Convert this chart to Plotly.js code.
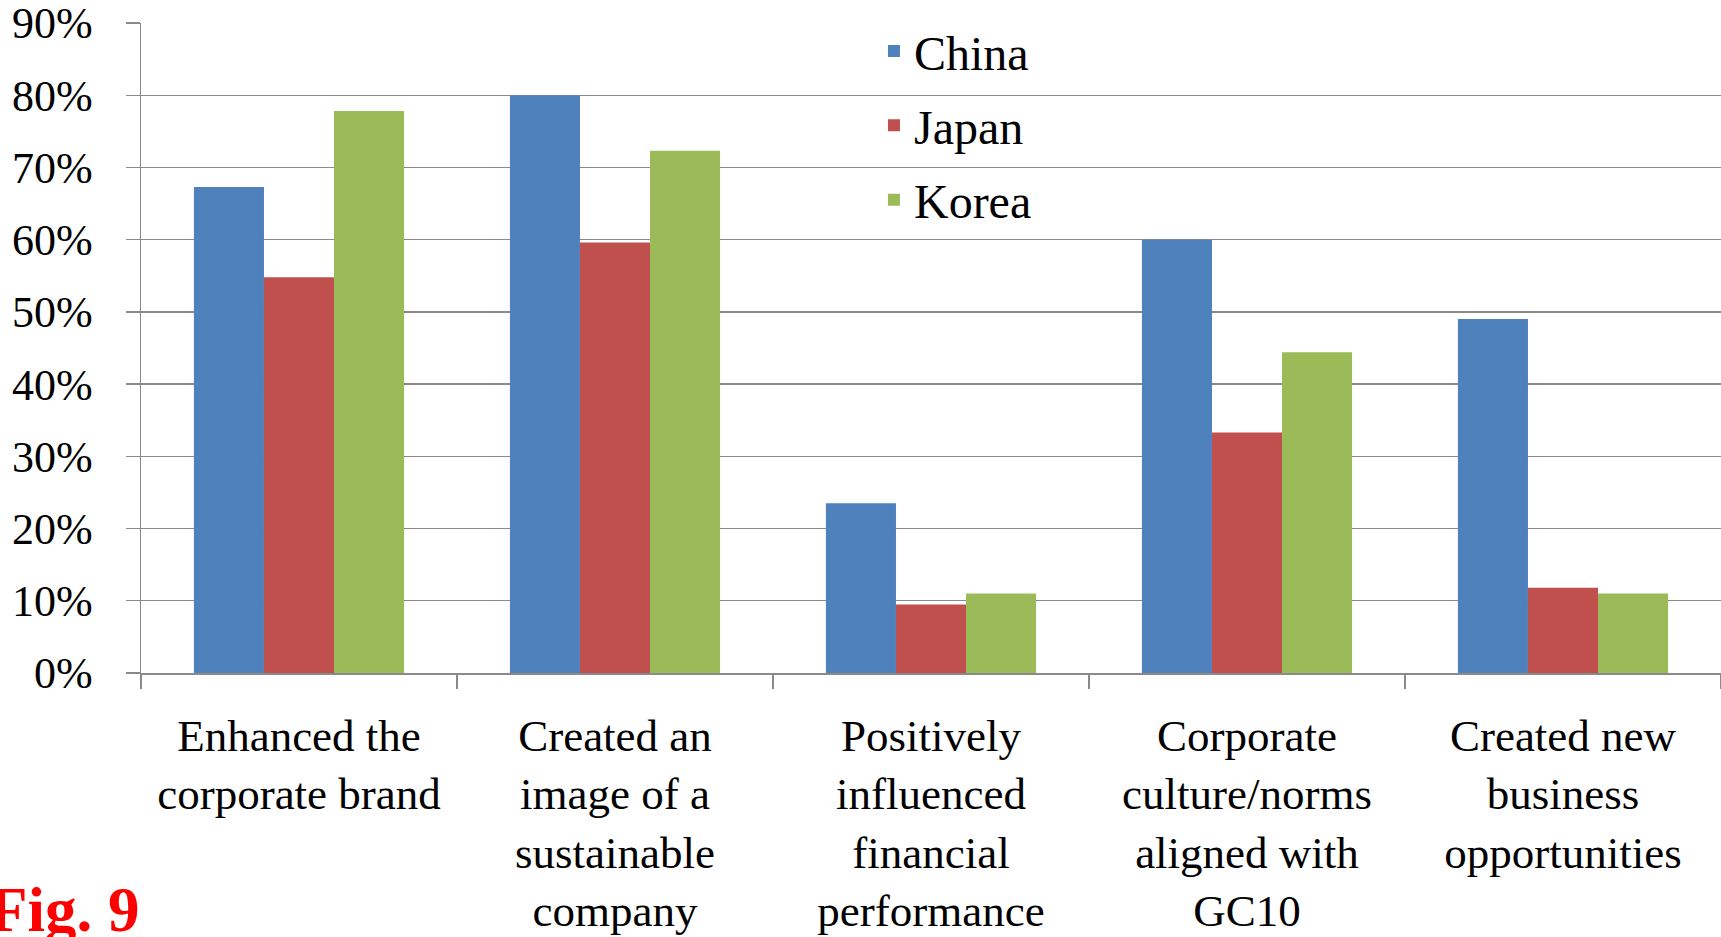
<!DOCTYPE html>
<html>
<head>
<meta charset="utf-8">
<script src="https://cdn.plot.ly/plotly-3.0.1.min.js"></script>
<style>html,body{margin:0;padding:0;background:#fff;}#chart{width:1721px;height:937px;}</style>
</head>
<body>
<div id="chart"></div>
<script>
const categories = [
  "Enhanced the<br>corporate brand",
  "Created an<br>image of a<br>sustainable<br>company",
  "Positively<br>influenced<br>financial<br>performance",
  "Corporate<br>culture/norms<br>aligned with<br>GC10",
  "Created new<br>business<br>opportunities"
];
const china = [67.3, 80.0, 23.5, 60.0, 49.0];
const japan = [54.8, 59.6, 9.5, 33.3, 11.8];
const korea = [77.8, 72.3, 11.0, 44.4, 11.0];
const seriesNames = ["China", "Japan", "Korea"];
const seriesColors = ["#4F81BD", "#C0504D", "#9BBB59"];
const yTickVals = [0, 10, 20, 30, 40, 50, 60, 70, 80, 90];
const yTickText = yTickVals.map(v => v + '%');

const FONT = 'Liberation Serif, Times New Roman, serif';
const GRID = '#8a8a8a';

const data = [china, japan, korea].map((vals, i) => ({
  type: 'bar',
  name: seriesNames[i],
  x: categories,
  y: vals,
  legendgroup: 'g' + i,
  marker: {color: seriesColors[i], line: {width: 0}},
  hoverinfo: 'name+y'
}));

const layout = {
  width: 1721, height: 937, autosize: false,
  margin: {l: 141, r: 0, t: 22.7, b: 264.3, pad: 0},
  paper_bgcolor: '#ffffff', plot_bgcolor: '#ffffff',
  font: {family: FONT, color: '#000000'},
  barmode: 'group', bargap: 0.335, bargroupgap: 0,
  showlegend: true,
  legend: {
    x: 0.4639, xanchor: 'left', y: 1.015, yanchor: 'top',
    bgcolor: 'rgba(0,0,0,0)', borderwidth: 0,
    font: {family: FONT, size: 48, color: '#000'},
    tracegroupgap: 9, traceorder: 'grouped'
  },
  xaxis: {
    type: 'category',
    showline: true, linecolor: GRID, linewidth: 1.5,
    ticks: 'outside', tickson: 'boundaries', ticklen: 14, tickcolor: GRID, tickwidth: 1.5,
    tickfont: {family: FONT, size: 45, color: '#000'},
    ticklabelstandoff: 22, ticklabeloverflow: 'allow',
    showgrid: false, zeroline: false, fixedrange: true
  },
  yaxis: {
    range: [0, 90], tickvals: yTickVals, ticktext: yTickText,
    showgrid: true, gridcolor: GRID, gridwidth: 1.3,
    showline: true, linecolor: GRID, linewidth: 1.5,
    ticks: 'outside', ticklen: 14, tickcolor: GRID, tickwidth: 1.3,
    tickfont: {family: FONT, size: 44, color: '#000'},
    ticklabelstandoff: 24, ticklabeloverflow: 'allow',
    zeroline: false, fixedrange: true
  },
  annotations: [{
    text: '<b>Fig. 9</b>', showarrow: false,
    xref: 'paper', yref: 'paper', x: -0.0975, xanchor: 'left', y: -0.365, yanchor: 'middle',
    font: {family: FONT, size: 63, color: '#FF0000'}
  }]
};

Plotly.newPlot('chart', data, layout, {displayModeBar: false, staticPlot: true});
</script>
</body>
</html>
